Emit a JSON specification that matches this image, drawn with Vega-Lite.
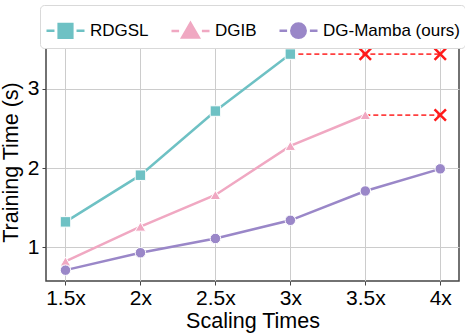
{
  "$schema": "https://vega.github.io/schema/vega-lite/v6.json",
  "autosize": {"type": "none"},
  "width": 413,
  "height": 238,
  "padding": {"left": 46, "top": 43, "right": 6, "bottom": 52},
  "background": "white",
  "config": {
    "font": "Liberation Sans",
    "view": {"stroke": "#444444", "strokeWidth": 1.5},
    "axis": {
      "domain": false,
      "grid": true,
      "gridColor": "#cccccc",
      "gridWidth": 1,
      "tickColor": "#444444",
      "tickSize": 4,
      "labelFont": "Liberation Sans",
      "labelFontSize": 21,
      "labelColor": "#000000",
      "titleFont": "Liberation Sans",
      "titleFontSize": 21.5,
      "titleFontWeight": "normal",
      "titleColor": "#000000"
    }
  },
  "datasets": {
    "series": [
      {"scale": 1.5, "time": 1.32, "method": "RDGSL"},
      {"scale": 2.0, "time": 1.91, "method": "RDGSL"},
      {"scale": 2.5, "time": 2.72, "method": "RDGSL"},
      {"scale": 3.0, "time": 3.44, "method": "RDGSL"},
      {"scale": 1.5, "time": 0.82, "method": "DGIB"},
      {"scale": 2.0, "time": 1.26, "method": "DGIB"},
      {"scale": 2.5, "time": 1.66, "method": "DGIB"},
      {"scale": 3.0, "time": 2.28, "method": "DGIB"},
      {"scale": 3.5, "time": 2.67, "method": "DGIB"},
      {"scale": 1.5, "time": 0.71, "method": "DG-Mamba (ours)"},
      {"scale": 2.0, "time": 0.93, "method": "DG-Mamba (ours)"},
      {"scale": 2.5, "time": 1.11, "method": "DG-Mamba (ours)"},
      {"scale": 3.0, "time": 1.34, "method": "DG-Mamba (ours)"},
      {"scale": 3.5, "time": 1.71, "method": "DG-Mamba (ours)"},
      {"scale": 4.0, "time": 1.99, "method": "DG-Mamba (ours)"}
    ],
    "oom": [
      {"scale": 3.0, "time": 3.44, "method": "RDGSL", "cross": "no"},
      {"scale": 3.5, "time": 3.44, "method": "RDGSL", "cross": "yes"},
      {"scale": 4.0, "time": 3.44, "method": "RDGSL", "cross": "yes"},
      {"scale": 3.5, "time": 2.67, "method": "DGIB", "cross": "no"},
      {"scale": 4.0, "time": 2.67, "method": "DGIB", "cross": "yes"}
    ]
  },
  "encoding": {
    "x": {
      "field": "scale",
      "type": "quantitative",
      "scale": {"domain": [1.37, 4.125], "nice": false, "zero": false},
      "axis": {
        "values": [1.5, 2, 2.5, 3, 3.5, 4],
        "labelExpr": "datum.value + 'x'",
        "title": "Scaling Times",
        "labelPadding": 2,
        "titlePadding": 2
      }
    },
    "y": {
      "field": "time",
      "type": "quantitative",
      "scale": {"domain": [0.573, 3.58], "nice": false, "zero": false},
      "axis": {
        "values": [1, 2, 3],
        "title": "Training Time (s)",
        "labelPadding": 3,
        "titlePadding": 5
      }
    }
  },
  "layer": [
    {
      "data": {"name": "oom"},
      "mark": {"type": "line", "color": "#ff4040", "strokeWidth": 1.8, "strokeDash": [5, 3]},
      "encoding": {"detail": {"field": "method"}}
    },
    {
      "data": {"name": "series"},
      "mark": {"type": "line", "strokeWidth": 2.5},
      "encoding": {
        "color": {
          "field": "method",
          "type": "nominal",
          "sort": ["RDGSL", "DGIB", "DG-Mamba (ours)"],
          "scale": {
            "domain": ["RDGSL", "DGIB", "DG-Mamba (ours)"],
            "range": ["#6ec1c4", "#f0a8c2", "#9a87c8"]
          },
          "legend": {
            "title": null,
            "orient": "none",
            "direction": "horizontal",
            "legendX": -6,
            "legendY": -38,
            "padding": 5,
            "strokeColor": "#d9d9d9",
            "cornerRadius": 4,
            "fillColor": "white",
            "labelFont": "Liberation Sans",
            "labelFontSize": 17,
            "labelColor": "#000000",
            "labelOffset": 4,
            "columnPadding": 17,
            "symbolSize": 1444,
            "symbolStrokeWidth": 2.5,
            "symbolOpacity": 1,
            "encode": {
              "symbols": {
                "update": {
                  "shape": {"signal": "datum.value === 'RDGSL' ? 'M-1,0H-0.58M0.58,0H1M-0.36,-0.36H0.36V0.36H-0.36Z' : datum.value === 'DGIB' ? 'M-1,0H-0.6M0.6,0H1M0,-0.42L0.44,0.34L-0.44,0.34Z' : 'M-1,0H-0.6M0.6,0H1M0.38,0A0.38,0.38,0,1,1,-0.38,0A0.38,0.38,0,1,1,0.38,0Z'"},
                  "fill": {"signal": "scale('color', datum.value)"},
                  "stroke": {"signal": "scale('color', datum.value)"}
                }
              }
            }
          }
        }
      }
    },
    {
      "data": {"name": "series"},
      "transform": [{"filter": "datum.method === 'RDGSL'"}],
      "mark": {"type": "point", "shape": "square", "filled": true, "size": 110, "stroke": "white", "strokeWidth": 1, "opacity": 1},
      "encoding": {"color": {"field": "method", "type": "nominal"}}
    },
    {
      "data": {"name": "series"},
      "transform": [{"filter": "datum.method === 'DGIB'"}],
      "mark": {"type": "point", "shape": "triangle-up", "filled": true, "size": 110, "stroke": "white", "strokeWidth": 1, "opacity": 1},
      "encoding": {"color": {"field": "method", "type": "nominal"}}
    },
    {
      "data": {"name": "series"},
      "transform": [{"filter": "datum.method === 'DG-Mamba (ours)'"}],
      "mark": {"type": "point", "shape": "circle", "filled": true, "size": 110, "stroke": "white", "strokeWidth": 1, "opacity": 1},
      "encoding": {"color": {"field": "method", "type": "nominal"}}
    },
    {
      "data": {"name": "oom"},
      "transform": [{"filter": "datum.cross === 'yes'"}],
      "mark": {"type": "point", "shape": "M-1,-1L1,1M1,-1L-1,1", "filled": false, "color": "#ff1a1a", "strokeWidth": 2.5, "size": 130, "opacity": 1}
    }
  ]
}
